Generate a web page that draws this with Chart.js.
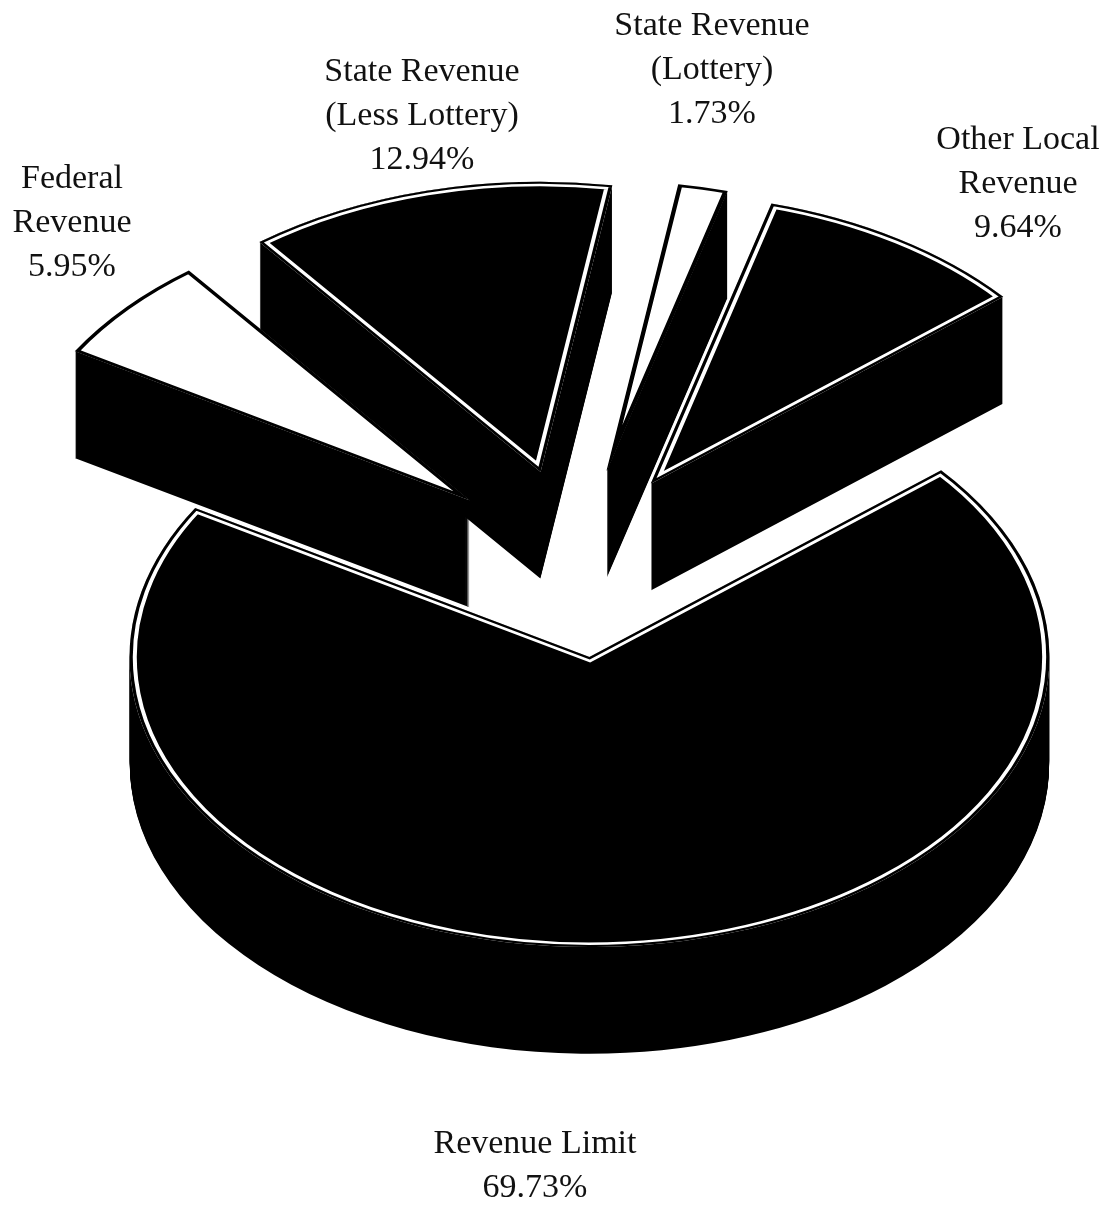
<!DOCTYPE html>
<html>
<head>
<meta charset="utf-8">
<style>
    body { margin: 0; background: #fff; }
    #wrap { position: relative; width: 1113px; height: 1206px; overflow: hidden; }
    .pie-label {
        position: absolute; transform: translateX(-50%); text-align: center; white-space: nowrap;
        font-family: "Liberation Serif", serif; font-size: 34px; line-height: 44px; color: #111;
    }
</style>
<script src="https://cdn.jsdelivr.net/npm/chart.js@4/dist/chart.umd.js"></script>
</head>
<body>
<div id="wrap"><canvas id="pieChart"></canvas></div>
<script>
const categories = ['Revenue Limit', 'Federal Revenue', 'State Revenue (Less Lottery)', 'State Revenue (Lottery)', 'Other Local Revenue'];
const labelLines = [['Revenue Limit'], ['Federal', 'Revenue'], ['State Revenue', '(Less Lottery)'], ['State Revenue', '(Lottery)'], ['Other Local', 'Revenue']];
const shares = [69.73, 5.95, 12.94, 1.73, 9.64];
const topColors = ['#000000', '#ffffff', '#000000', '#ffffff', '#000000'];

// label anchor: centre x, top y
const labelX = [535, 72, 422, 712, 1018];
const labelY = [1120, 155, 48, 2, 116];

// back to front, federal sits over the state side, other local over the lottery side
const drawOrder = [0, 3, 2, 1, 4];

const TILT = 0.63;
const DEPTH = 107;
const EXPLODE = 150;
// the original pulls the slices out a bit unevenly
const sliceNudgeX = [0, 4, 0, -2, -7];

function paintArc(ctx, arc, bg, border, width) {
    const saved = arc.options;
    arc.options = {
        backgroundColor: bg, borderColor: border, borderWidth: width, borderAlign: 'inner',
        borderJoinStyle: 'miter', borderRadius: 0, borderDash: [], borderDashOffset: 0,
        offset: 0, spacing: 0, circular: true, selfJoin: false
    };
    arc.draw(ctx);
    arc.options = saved;
}

const tiltedPie = {
    id: 'tiltedPie',
    beforeDatasetsDraw(chart) {
        const ctx = chart.ctx;
        const arcs = chart.getDatasetMeta(0).data;
        drawOrder.forEach(i => {
            const arc = arcs[i];
            const mid = (arc.startAngle + arc.endAngle) / 2;
            const place = (drop) => {
                ctx.save();
                ctx.translate(arc.x + sliceNudgeX[i], arc.y + drop);
                ctx.scale(1, TILT);
                ctx.translate(-arc.x, -arc.y);
                ctx.translate(Math.cos(mid) * EXPLODE, Math.sin(mid) * EXPLODE);
            };
            for (let d = DEPTH; d > 0; d--) {
                place(d);
                paintArc(ctx, arc, '#000000', '#000000', 0);
                ctx.restore();
            }
            place(0);
            if (topColors[i] === '#000000') {
                paintArc(ctx, arc, '#000000', '#ffffff', 7);
                paintArc(ctx, arc, 'rgba(0,0,0,0)', '#000000', 3);
            } else {
                paintArc(ctx, arc, '#ffffff', '#000000', 4);
            }
            ctx.restore();
        });
        return false;
    }
};

new Chart(document.getElementById('pieChart'), {
    type: 'pie',
    data: { labels: categories, datasets: [{ data: shares, backgroundColor: topColors }] },
    options: {
        responsive: true, maintainAspectRatio: false, animation: false,
        rotation: 49.9, radius: 460,
        layout: { padding: { left: 42, bottom: 80 } },
        plugins: { legend: { display: false }, tooltip: { enabled: false } }
    },
    plugins: [tiltedPie]
});

const wrap = document.getElementById('wrap');
categories.forEach((c, i) => {
    const div = document.createElement('div');
    div.className = 'pie-label';
    div.style.left = labelX[i] + 'px';
    div.style.top = labelY[i] + 'px';
    div.innerHTML = labelLines[i].concat(shares[i].toFixed(2) + '%').join('<br>');
    wrap.appendChild(div);
});
</script>
</body>
</html>
